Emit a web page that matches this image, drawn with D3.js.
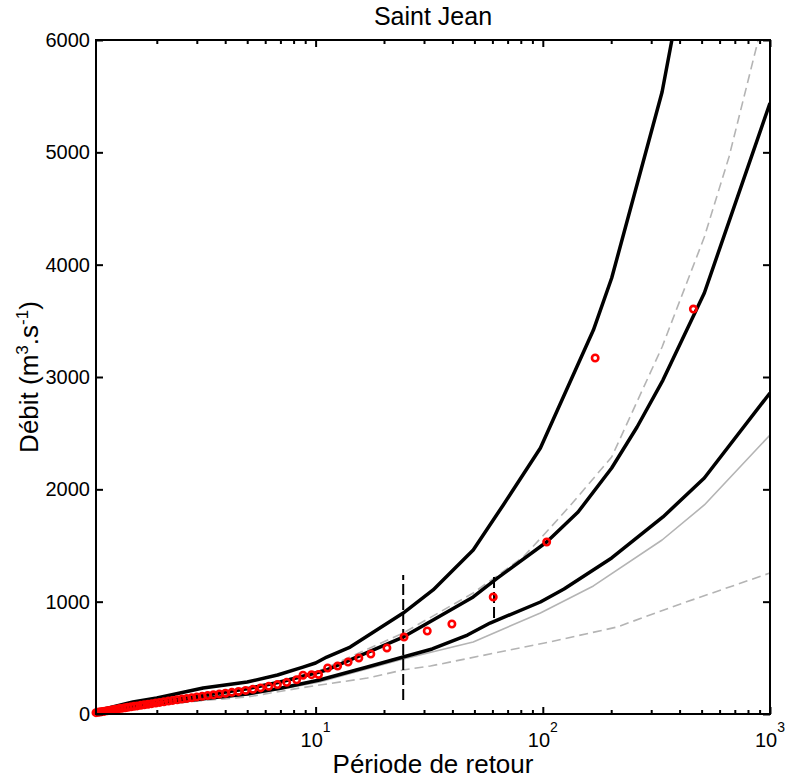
<!DOCTYPE html>
<html>
<head>
<meta charset="utf-8">
<script src="https://cdn.jsdelivr.net/npm/d3@7"></script>
<style>
  body { margin: 0; background: #fff; }
  text { font-family: "Liberation Sans", Arial, sans-serif; fill: #000; }
</style>
</head>
<body>
<div id="chart"></div>
<script>
// return period (years) / discharge (m3/s)
const fitCurve = [[1.08, 15], [1.5, 65], [2, 105], [3, 155], [5, 225], [7, 285], [10, 365], [11.2, 392],
  [24.3, 685], [32.9, 837], [49.4, 1042], [63.3, 1211], [104, 1531], [143, 1798], [201, 2190],
  [260, 2555], [338, 2973], [514, 3748], [1000, 5439]];
const ciUpper = [[1.08, 20], [1.2, 50], [1.57, 107], [2, 142], [3.2, 231], [5, 285], [6.8, 347], [8.8, 418],
  [10, 454], [11.2, 507], [14.2, 596], [24.3, 899], [32.9, 1104], [49.4, 1460], [67, 1861],
  [97.6, 2368], [167, 3418], [201, 3881], [335, 5537], [370, 6000]];
const ciLower = [[1.08, 8], [1.5, 55], [2, 90], [3, 130], [5, 178], [7, 230], [10.4, 303], [16.9, 418],
  [24.3, 507], [32.6, 579], [46.6, 703], [58.6, 810], [97.6, 997], [124, 1113], [201, 1389],
  [338, 1754], [514, 2101], [1000, 2858]];
const altFit = [[1.08, 6], [1.5, 52], [2, 86], [3, 125], [5, 169], [7, 220], [10.4, 285], [24.3, 490],
  [49.4, 641], [67, 757], [97.6, 899], [167, 1140], [335, 1549], [514, 1861], [1000, 2484]];
const altUpper = [[1.08, 16], [1.5, 67], [2, 108], [3, 158], [5, 228], [10, 370], [24.3, 721], [49.4, 1077],
  [82, 1398], [107, 1650], [135, 1878], [201, 2288], [335, 3267], [514, 4246], [660, 4959], [1000, 6420]];
const altLower = [[1.08, 4], [1.5, 45], [2, 78], [3, 115], [5, 151], [8.5, 231], [10.4, 258], [16.9, 320],
  [24.3, 392], [32, 427], [107, 641], [212, 774], [415, 988], [1000, 1255]];

// observed floods (empirical return periods)
const obsT = [1.08, 1.10, 1.12, 1.14, 1.16, 1.18, 1.21, 1.24, 1.27, 1.30, 1.33, 1.37, 1.41, 1.45, 1.49,
  1.54, 1.59, 1.64, 1.70, 1.76, 1.83, 1.90, 1.98, 2.06, 2.15, 2.25, 2.35, 2.46, 2.58, 2.71, 2.85,
  3.00, 3.17, 3.35, 3.55, 3.77, 4.01, 4.28, 4.58, 4.92, 5.30, 5.73, 6.22, 6.79, 7.46, 8.25, 8.8,
  9.6, 10.3, 11.3, 12.5, 13.9, 15.5, 17.5, 20.6, 24.5, 31, 39.8, 60.5, 104, 170, 460];
const obsQ = [12, 15, 18, 20, 22, 25, 28, 32, 36, 40, 43, 48, 52, 55, 60, 64, 68, 72, 77, 82, 87, 92,
  98, 103, 109, 115, 121, 127, 133, 139, 145, 152, 158, 165, 171, 178, 185, 193, 201, 210, 220, 232,
  246, 262, 282, 305, 345, 350, 352, 410, 427, 463, 499, 534, 588, 685, 739, 801, 1042, 1531, 3169, 3605];

// historical flood ranges (vertical dashed bars)
const histBars = [{T: 24.3, q0: 125, q1: 1237}, {T: 61, q0: 855, q1: 1237}];

const yTicks = [0, 1000, 2000, 3000, 4000, 5000, 6000];
const xMajor = [10, 100, 1000];

const W = 785, H = 780;
const margin = {top: 40, right: 15, bottom: 66, left: 96};
const x = d3.scaleLog().domain([1.08, 1000]).range([margin.left, W - margin.right]);
const y = d3.scaleLinear().domain([0, 6000]).range([H - margin.bottom, margin.top]);

const svg = d3.select('#chart').append('svg')
  .attr('width', W)
  .attr('height', H);

svg.append('clipPath').attr('id', 'plotclip')
  .append('rect')
    .attr('x', x.range()[0]).attr('y', y.range()[1])
    .attr('width', x.range()[1] - x.range()[0])
    .attr('height', y.range()[0] - y.range()[1]);

const line = d3.line().x(d => x(d[0])).y(d => y(d[1]));
const curves = svg.append('g').attr('clip-path', 'url(#plotclip)');

function drawCurve(data, color, width, dash) {
  curves.append('path')
    .datum(data)
    .attr('d', line)
    .attr('fill', 'none')
    .attr('stroke', color)
    .attr('stroke-width', width)
    .attr('stroke-linejoin', 'round')
    .attr('stroke-dasharray', dash || null);
}

drawCurve(altLower, '#b4b4b4', 1.6, '9,5');
drawCurve(altUpper, '#b4b4b4', 1.6, '9,5');
drawCurve(altFit, '#b4b4b4', 1.6);
drawCurve(ciLower, '#000', 3.5);
drawCurve(ciUpper, '#000', 3.5);
drawCurve(fitCurve, '#000', 3.5);

svg.append('g').selectAll('line')
  .data(histBars)
  .join('line')
    .attr('x1', d => x(d.T)).attr('x2', d => x(d.T))
    .attr('y1', d => y(d.q0)).attr('y2', d => y(d.q1))
    .attr('stroke', '#000')
    .attr('stroke-width', 2)
    .attr('stroke-dasharray', '11,4');

svg.append('g').selectAll('circle')
  .data(d3.zip(obsT, obsQ))
  .join('circle')
    .attr('cx', d => x(d[0]))
    .attr('cy', d => y(d[1]))
    .attr('r', 3.2)
    .attr('fill', 'none')
    .attr('stroke', '#ff0000')
    .attr('stroke-width', 2.6);

// box axes, ticks pointing inwards (matlab style)
const x0 = x.range()[0], x1 = x.range()[1], y0 = y.range()[0], y1 = y.range()[1];
const axes = svg.append('g');

axes.append('g')
  .attr('transform', `translate(0,${y0})`)
  .call(d3.axisBottom(x).tickValues(x.ticks()).tickSizeInner(-4).tickSizeOuter(0).tickFormat(''))
  .call(g => g.selectAll('.tick line').attr('stroke-width', 2)
    .filter(d => xMajor.includes(d)).attr('y2', -7));
axes.append('g')
  .attr('transform', `translate(0,${y1})`)
  .call(d3.axisTop(x).tickValues(x.ticks()).tickSizeInner(-4).tickSizeOuter(0).tickFormat(''))
  .call(g => g.selectAll('.tick line').attr('stroke-width', 2)
    .filter(d => xMajor.includes(d)).attr('y2', 7));
axes.append('g')
  .attr('transform', `translate(${x0},0)`)
  .call(d3.axisLeft(y).tickValues(yTicks).tickSizeInner(-7).tickSizeOuter(0).tickPadding(6)
    .tickFormat(d3.format('d')))
  .call(g => g.selectAll('.tick line').attr('stroke-width', 2));
axes.append('g')
  .attr('transform', `translate(${x1},0)`)
  .call(d3.axisRight(y).tickValues(yTicks).tickSizeInner(-7).tickSizeOuter(0).tickFormat(''))
  .call(g => g.selectAll('.tick line').attr('stroke-width', 2));
axes.selectAll('.domain').remove();
axes.selectAll('.tick text')
  .attr('font-family', '"Liberation Sans", Arial, sans-serif')
  .attr('font-size', 20)
  .attr('fill', '#000');

axes.append('rect')
  .attr('x', x0).attr('y', y1)
  .attr('width', x1 - x0).attr('height', y0 - y1)
  .attr('fill', 'none')
  .attr('stroke', '#000')
  .attr('stroke-width', 2);

// power-of-ten labels
const xl = svg.append('g').selectAll('text')
  .data(xMajor)
  .join('text')
    .attr('x', d => x(d))
    .attr('y', y0 + 33)
    .attr('text-anchor', 'middle')
    .attr('font-size', 20);
xl.append('tspan').text('10');
xl.append('tspan').attr('dy', -15).attr('font-size', 14).text(d => Math.round(Math.log10(d)));

svg.append('text')
  .attr('x', (x0 + x1) / 2)
  .attr('y', 25)
  .attr('text-anchor', 'middle')
  .attr('font-size', 25)
  .text('Saint Jean');

svg.append('text')
  .attr('x', (x0 + x1) / 2)
  .attr('y', 773)
  .attr('text-anchor', 'middle')
  .attr('font-size', 26)
  .text('Période de retour');

const yl = svg.append('text')
  .attr('transform', `translate(38,${(y0 + y1) / 2}) rotate(-90)`)
  .attr('text-anchor', 'middle')
  .attr('font-size', 26);
yl.append('tspan').text('Débit (m');
yl.append('tspan').attr('dy', -10).attr('font-size', 17).text('3');
yl.append('tspan').attr('dy', 10).text('.s');
yl.append('tspan').attr('dy', -10).attr('font-size', 17).text('-1');
yl.append('tspan').attr('dy', 10).text(')');
</script>
</body>
</html>
